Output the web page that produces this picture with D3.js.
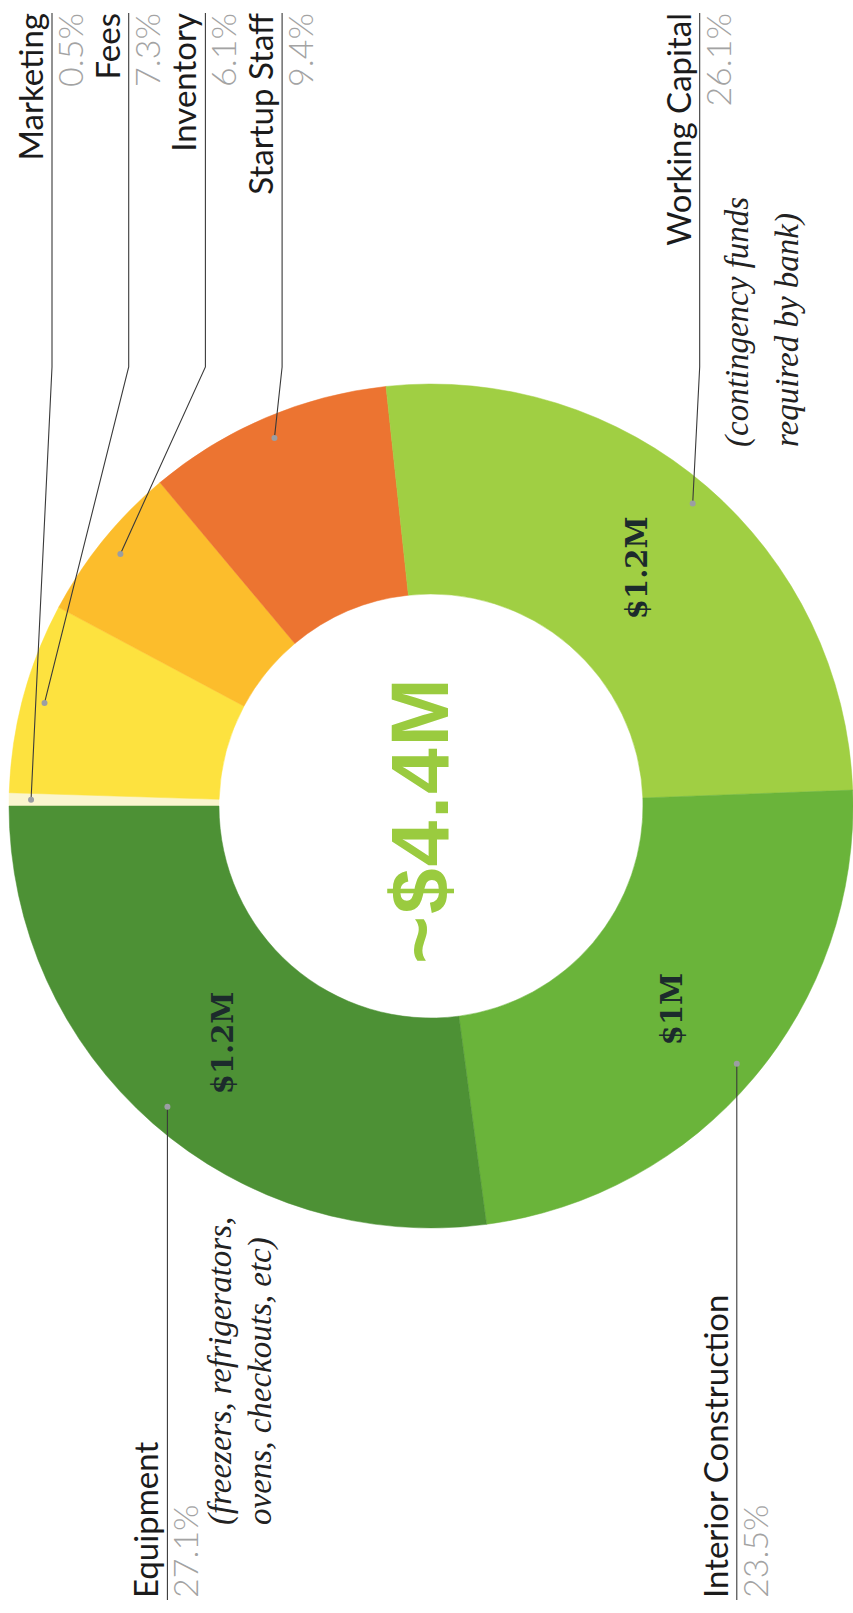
<!DOCTYPE html>
<html>
<head>
<meta charset="utf-8">
<script src="https://cdn.jsdelivr.net/npm/d3@7"></script>
<style>
  body { margin: 0; background: #fff; }
  svg { display: block; }
  .label { font-family: Lato, 'Open Sans', sans-serif; font-size: 33px; fill: #1b1b1b; }
  .pct { font-family: Lato, 'Open Sans', sans-serif; font-weight: 300; font-size: 34px; fill: #a3a3a3; }
  .note { font-family: 'Liberation Serif', serif; font-style: italic; font-size: 33px; fill: #222; }
  .amount { font-family: 'DejaVu Serif', serif; font-weight: bold; font-size: 29px; fill: #1c2b2c; }
  .total { font-family: 'Liberation Sans', Arial, sans-serif; font-weight: bold; font-size: 82px; letter-spacing: 2px; fill: #9acb3f; }
  .leader { fill: none; stroke: #3a3a3a; stroke-width: 1.1; }
  .dot { fill: #9b9ea3; }
</style>
</head>
<body>
<svg id="chart"></svg>
<script>
// budget split (clockwise, starting at the top of the ring)
const categories = ['Marketing', 'Fees', 'Inventory', 'Startup Staff', 'Working Capital', 'Interior Construction', 'Equipment'];
const shares = [0.5, 7.3, 6.1, 9.4, 26.1, 23.5, 27.1];
const amounts = [null, null, null, null, '$1.2M', '$1M', '$1.2M'];
const notes = [[], [], [], [], ['(contingency funds', 'required by bank)'], [], ['(freezers, refrigerators,', 'ovens, checkouts, etc)']];
const colors = ['#fbf5cd', '#fde23f', '#fcbd2c', '#ec7431', '#a0cf43', '#6ab43a', '#4d9135'];
const totalLabel = '~$4.4M';

class SideDonut {

  constructor(_config, _data) {
    this.config = {
      parentElement: _config.parentElement,
      containerWidth: _config.containerWidth || 853,
      containerHeight: _config.containerHeight || 1613,
      outerRadius: 422,
      innerRadius: 212,
      dotInset: 22,
      amountRadius: 315,
      edge: 13,
      bend: 1246,
      firstRow: 52,
      rowGap: 76.7
    };
    this.data = _data;
    this.initVis();
  }

  initVis() {
    let vis = this;

    // The whole page is printed on its side, so we lay it out in a wide frame and turn it
    vis.width = vis.config.containerHeight;
    vis.height = vis.config.containerWidth;
    vis.cx = 807;
    vis.cy = 431;

    vis.svg = d3.select(vis.config.parentElement)
        .attr('width', vis.config.containerWidth)
        .attr('height', vis.config.containerHeight);

    vis.svg.append('rect')
        .attr('width', vis.config.containerWidth)
        .attr('height', vis.config.containerHeight)
        .attr('fill', '#fff');

    vis.chart = vis.svg.append('g')
        .attr('transform', `translate(0,${vis.config.containerHeight}) rotate(-90)`);

    vis.pie = d3.pie()
        .sort(null)
        .value(d => d.share);

    vis.arc = d3.arc()
        .innerRadius(vis.config.innerRadius)
        .outerRadius(vis.config.outerRadius);

    vis.amountArc = d3.arc()
        .innerRadius(vis.config.amountRadius)
        .outerRadius(vis.config.amountRadius);

    vis.colorScale = d3.scaleOrdinal()
        .domain(categories)
        .range(colors);

    vis.updateVis();
  }

  updateVis() {
    let vis = this;
    const rDot = vis.config.outerRadius - vis.config.dotInset;

    vis.arcs = vis.pie(vis.data);

    // anchor dot on every slice, and which side its label goes to
    let row = vis.config.firstRow - vis.config.rowGap;
    vis.arcs.forEach(d => {
      const mid = (d.startAngle + d.endAngle) / 2;
      d.dot = [vis.cx + Math.sin(mid) * rDot, vis.cy - Math.cos(mid) * rDot];
      d.side = mid < Math.PI ? 'right' : 'left';
      if (d.side === 'right') {
        row = Math.max(d.dot[1] + 7, row + vis.config.rowGap);
        d.rowY = row;
      } else {
        d.rowY = d.dot[1];
      }
    });

    vis.renderVis();
  }

  renderVis() {
    let vis = this;
    const W = vis.width, e = vis.config.edge;

    const ring = vis.chart.append('g')
        .attr('transform', `translate(${vis.cx},${vis.cy})`);

    ring.selectAll('.slice')
        .data(vis.arcs)
      .join('path')
        .attr('class', 'slice')
        .attr('d', vis.arc)
        .attr('fill', d => vis.colorScale(d.data.category))
        .attr('stroke', d => vis.colorScale(d.data.category))
        .attr('stroke-width', 0.5);

    ring.selectAll('.amount')
        .data(vis.arcs.filter(d => d.data.amount))
      .join('text')
        .attr('class', 'amount')
        .attr('text-anchor', 'middle')
        .attr('x', d => vis.amountArc.centroid(d)[0])
        .attr('y', d => vis.amountArc.centroid(d)[1] + 10)
        .text(d => d.data.amount);

    // big total in the hole
    vis.chart.append('text')
        .attr('class', 'total')
        .attr('text-anchor', 'middle')
        .attr('x', vis.cx - 14)
        .attr('y', vis.cy + 17)
        .text(totalLabel);

    // leader lines
    vis.chart.selectAll('.leader')
        .data(vis.arcs)
      .join('path')
        .attr('class', 'leader')
        .attr('d', d => {
          if (d.side === 'right') {
            return `M${W - e},${d.rowY}L${vis.config.bend},${d.rowY}L${d.dot[0]},${d.dot[1]}`;
          }
          return `M${e},${d.rowY}L${d.dot[0]},${d.dot[1]}`;
        });

    vis.chart.selectAll('.dot')
        .data(vis.arcs)
      .join('circle')
        .attr('class', 'dot')
        .attr('cx', d => d.dot[0])
        .attr('cy', d => d.dot[1])
        .attr('r', 3);

    const labels = vis.chart.selectAll('.label-group')
        .data(vis.arcs)
      .join('g')
        .attr('class', 'label-group')
        .attr('transform', d => `translate(${d.side === 'right' ? W - e : e + 2},${d.rowY})`)
        .attr('text-anchor', d => d.side === 'right' ? 'end' : 'start');

    labels.append('text')
        .attr('class', 'label')
        .attr('y', -9)
        .text(d => d.data.category);

    labels.append('text')
        .attr('class', 'pct')
        .attr('y', 31)
        .text(d => d3.format('.1f')(d.data.share) + '%');

    // italic side notes
    labels.each(function(d) {
      if (!d.data.note.length) return;
      const g = d3.select(this);
      const right = d.side === 'right';
      const x0 = right ? vis.config.bend - 80 - (W - e) : 73;
      const y0 = right ? 48 : 64;
      const step = right ? 50 : 40;
      g.selectAll('.note')
          .data(d.data.note)
        .join('text')
          .attr('class', 'note')
          .attr('text-anchor', 'start')
          .attr('x', x0)
          .attr('y', (t, i) => y0 + i * step)
          .text(t => t);
    });
  }
}

const data = categories.map((c, i) => ({
  category: c,
  share: shares[i],
  amount: amounts[i],
  note: notes[i]
}));

const donut = new SideDonut({ parentElement: '#chart' }, data);
</script>
</body>
</html>
